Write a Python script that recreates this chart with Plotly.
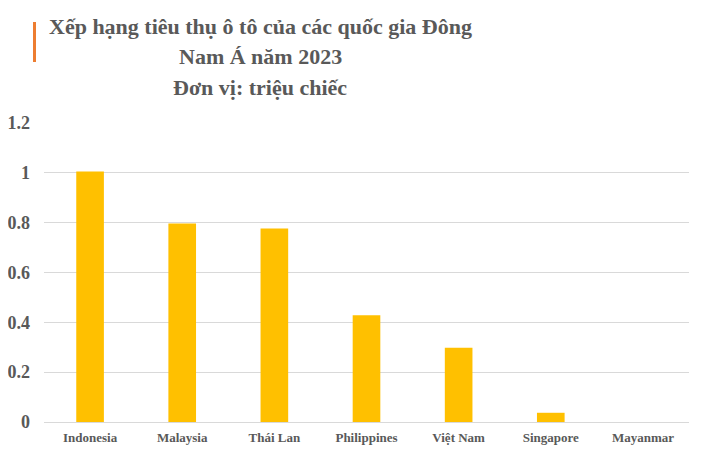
import plotly.graph_objects as go

countries = ["Indonesia", "Malaysia", "Thái Lan", "Philippines", "Việt Nam", "Singapore", "Mayanmar"]
sales = [1.005, 0.797, 0.777, 0.428, 0.298, 0.037, 0.0]
y_ticks = [0, 0.2, 0.4, 0.6, 0.8, 1, 1.2]
y_tick_labels = ["0", "0.2", "0.4", "0.6", "0.8", "1", "1.2"]
title_lines = ["Xếp hạng tiêu thụ ô tô của các quốc gia Đông", "Nam Á năm 2023", "Đơn vị: triệu chiếc"]

# page body has an 8px margin; compensate so the figure lands where the reference is
OFF = 8
W, H = 705 - 2 * OFF, 455 - 2 * OFF
L, R, T, B = 44 - OFF, 16 - OFF, 123 - OFF, 33 - OFF
PW, PH = W - L - R, H - T - B
FONT = "Liberation Serif"
GRAY = "#595959"
TITLE_SIZE = 22


def px_x(x):
    return (x - OFF - L) / PW


def px_y(y):
    return 1.0 - (y - OFF - T) / PH


fig = go.Figure(go.Bar(
    x=countries, y=sales,
    marker=dict(color="#FFC000", line=dict(width=0)),
    width=0.3,
))

title_baselines = [34, 64, 95]
annotations = [
    dict(
        text=line, xref="paper", yref="paper",
        x=px_x(260), y=px_y(base - 0.32 * TITLE_SIZE),
        xanchor="center", yanchor="middle", showarrow=False,
        font=dict(family=FONT, size=TITLE_SIZE, color=GRAY, weight="bold"),
    )
    for line, base in zip(title_lines, title_baselines)
]

fig.update_layout(
    width=W, height=H,
    margin=dict(l=L, r=R, t=T, b=B),
    paper_bgcolor="white", plot_bgcolor="white",
    showlegend=False,
    font=dict(family=FONT, color=GRAY),
    xaxis=dict(
        automargin=False,
        showgrid=False, showline=False, ticks="",
        tickfont=dict(family=FONT, size=13, color=GRAY, weight="bold"),
        ticklabelstandoff=6,
    ),
    yaxis=dict(
        automargin=False,
        range=[0, 1.2], tickvals=y_ticks, ticktext=y_tick_labels,
        showgrid=True, gridcolor="#D9D9D9", gridwidth=1,
        zeroline=True, zerolinecolor="#D9D9D9", zerolinewidth=1,
        showline=False, ticks="",
        tickfont=dict(family=FONT, size=18, color=GRAY, weight="bold"),
        ticklabelstandoff=13,
    ),
    annotations=annotations,
    shapes=[dict(
        type="rect", xref="paper", yref="paper",
        x0=px_x(33), x1=px_x(36),
        y0=px_y(62), y1=px_y(22),
        fillcolor="#ED7D31", line=dict(width=0),
    )],
)

fig.write_html("out.html")
